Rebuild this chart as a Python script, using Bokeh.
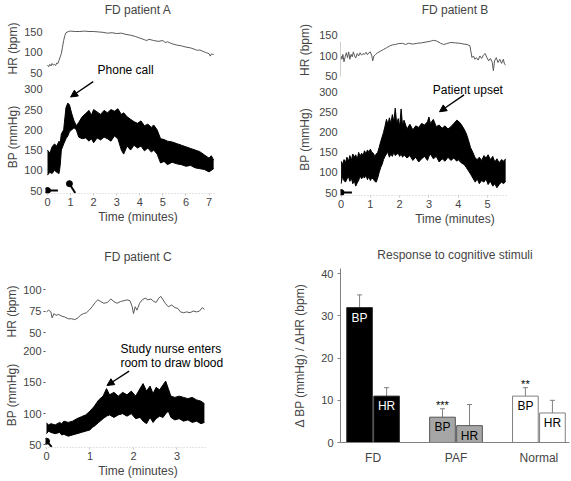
from bokeh.plotting import figure
from bokeh.layouts import row, column
from bokeh.models import (ColumnDataSource, FixedTicker, Range1d, Arrow, NormalHead,
                          Whisker, TeeHead, Label, AllLabels)
from bokeh.core.properties import value
from bokeh.embed import file_html
from bokeh.resources import INLINE

FONT = "Liberation Sans"

# ---------------- Patient A ----------------
A_HR_T = [0.00, 0.05, 0.10, 0.15, 0.20, 0.25, 0.30, 0.35, 0.40, 0.45, 0.50, 0.55, 0.60, 0.65,
          0.70, 0.75, 0.80, 0.90, 1.00, 1.20, 1.40, 1.60, 1.80, 2.00, 2.20, 2.40, 2.60, 2.80,
          3.00, 3.20, 3.40, 3.60, 3.80, 4.00, 4.20, 4.30, 4.40, 4.60, 4.80, 5.00, 5.10, 5.20,
          5.40, 5.60, 5.80, 6.00, 6.20, 6.40, 6.50, 6.60, 6.80, 6.90, 7.00, 7.05, 7.10, 7.20]
A_HR = [68, 64, 70, 66, 72, 68, 70, 67, 73, 72, 80, 88, 96, 112,
        128, 140, 147, 150, 151, 150, 150, 151, 150, 150, 149, 148, 146, 147,
        145, 146, 143, 141, 138, 134, 130, 128, 131, 128, 126, 128, 123, 125,
        120, 117, 115, 112, 110, 106, 104, 105, 100, 98, 96, 90, 95, 94]

A_BP_T = [0.00, 0.10, 0.20, 0.30, 0.40, 0.50, 0.55, 0.60, 0.70, 0.80, 0.88, 0.95, 1.05, 1.15,
          1.25, 1.35, 1.50, 1.65, 1.80, 1.90, 2.00, 2.15, 2.30, 2.45, 2.60, 2.75, 2.90, 3.05,
          3.20, 3.30, 3.45, 3.60, 3.75, 3.90, 4.05, 4.20, 4.35, 4.50, 4.60, 4.75, 4.90, 5.05,
          5.20, 5.40, 5.60, 5.80, 6.00, 6.20, 6.40, 6.60, 6.80, 7.00, 7.10, 7.20]
A_SYS = [150, 142, 158, 165, 160, 172, 168, 190, 200, 255, 266, 262, 240, 222,
         210, 218, 232, 240, 248, 236, 250, 244, 238, 248, 242, 250, 246, 252,
         238, 242, 232, 226, 220, 216, 222, 210, 214, 206, 212, 200, 178, 176,
         172, 170, 166, 162, 158, 154, 150, 146, 138, 130, 136, 125]
A_DIA = [88, 95, 92, 100, 95, 92, 112, 150, 165, 178, 185, 195, 200, 205,
         200, 182, 178, 180, 172, 178, 168, 180, 175, 182, 178, 172, 185, 178,
         150, 140, 160, 150, 162, 155, 160, 148, 155, 145, 150, 140, 118, 122,
         114, 120, 116, 114, 110, 112, 106, 104, 102, 96, 100, 104]

# ---------------- Patient B ----------------
B_HR_T = [0.00, 0.03, 0.06, 0.10, 0.14, 0.18, 0.22, 0.26, 0.30, 0.34, 0.38, 0.42, 0.46, 0.50,
          0.55, 0.60, 0.65, 0.70, 0.75, 0.80, 0.85, 0.90, 0.95, 1.00, 1.05, 1.08, 1.12, 1.18,
          1.25, 1.35, 1.45, 1.55, 1.65, 1.75, 1.85, 1.95, 2.10, 2.20, 2.30, 2.45, 2.60, 2.75,
          2.90, 3.05, 3.15, 3.25, 3.40, 3.50, 3.60, 3.75, 3.90, 4.05, 4.20, 4.30, 4.40, 4.43,
          4.47, 4.52, 4.57, 4.62, 4.68, 4.74, 4.80, 4.86, 4.92, 4.98, 5.04, 5.10, 5.16, 5.20,
          5.24, 5.30, 5.36, 5.42, 5.48, 5.54, 5.58, 5.62]
B_HR = [100, 92, 104, 86, 98, 108, 96, 110, 92, 104, 98, 110, 100, 95,
        106, 100, 108, 102, 106, 104, 109, 103, 108, 110, 100, 88, 100, 104,
        108, 112, 116, 120, 124, 127, 128, 130, 131, 128, 131, 129, 131, 132,
        134, 136, 138, 137, 131, 128, 130, 133, 132, 131, 129, 128, 125, 112,
        96, 100, 92, 96, 90, 100, 94, 102, 106, 96, 88, 94, 85, 64,
        88, 96, 84, 92, 82, 92, 80, 78]

B_BP_T = [0.00, 0.05, 0.10, 0.15, 0.20, 0.25, 0.30, 0.35, 0.40, 0.45, 0.50, 0.55, 0.60, 0.65,
          0.70, 0.75, 0.80, 0.85, 0.90, 0.95, 1.00, 1.05, 1.10, 1.15, 1.20, 1.25, 1.30, 1.35,
          1.40, 1.45, 1.50, 1.55, 1.60, 1.65, 1.70, 1.75, 1.80, 1.85, 1.90, 1.95, 2.00, 2.05,
          2.10, 2.15, 2.25, 2.35, 2.45, 2.55, 2.65, 2.75, 2.85, 2.95, 3.00, 3.05, 3.15, 3.25,
          3.35, 3.45, 3.55, 3.65, 3.75, 3.85, 3.95, 4.00, 4.10, 4.20, 4.28, 4.35, 4.42, 4.50,
          4.58, 4.65, 4.72, 4.80, 4.88, 4.95, 5.02, 5.10, 5.18, 5.25, 5.32, 5.40, 5.48, 5.55,
          5.62]
B_SYS = [128, 120, 132, 125, 138, 128, 142, 130, 146, 138, 144, 132, 150, 140,
         148, 142, 154, 146, 156, 150, 158, 150, 148, 140, 146, 150, 162, 176,
         188, 200, 215, 232, 220, 236, 222, 244, 226, 260, 220, 234, 214, 258,
         216, 230, 208, 220, 206, 216, 212, 222, 218, 226, 238, 222, 232, 214,
         218, 210, 216, 208, 214, 222, 230, 228, 220, 208, 196, 180, 162, 150,
         136, 132, 138, 130, 142, 136, 144, 132, 140, 126, 134, 124, 132, 128,
         134]
B_DIA = [72, 90, 80, 76, 84, 90, 78, 86, 72, 80, 66, 74, 80, 92,
         84, 90, 86, 94, 82, 90, 80, 86, 84, 78, 76, 86, 100, 112,
         120, 132, 140, 146, 150, 138, 146, 140, 150, 142, 145, 148, 140, 146,
         138, 144, 136, 142, 130, 138, 126, 134, 140, 130, 140, 146, 134, 140,
         126, 134, 128, 138, 130, 136, 128, 132, 124, 120, 112, 104, 96, 86,
         76, 84, 72, 80, 76, 84, 70, 78, 66, 72, 62, 70, 76, 72,
         78]

# ---------------- Patient C ----------------
C_HR_T = [0.00, 0.05, 0.10, 0.13, 0.17, 0.22, 0.28, 0.35, 0.42, 0.50, 0.58, 0.65, 0.72, 0.78,
          0.85, 0.92, 0.98, 1.05, 1.12, 1.18, 1.25, 1.32, 1.40, 1.48, 1.55, 1.62, 1.70, 1.78,
          1.85, 1.92, 1.97, 2.00, 2.04, 2.08, 2.14, 2.20, 2.27, 2.33, 2.40, 2.47, 2.52, 2.58,
          2.63, 2.68, 2.73, 2.80, 2.88, 2.95, 3.02, 3.08, 3.15, 3.22, 3.30, 3.37, 3.45, 3.52,
          3.58, 3.63]
C_HR = [74, 76, 74, 67, 72, 70, 71, 69, 68, 66, 66, 65, 67, 70,
        72, 73, 76, 80, 85, 88, 86, 84, 85, 89, 86, 84, 86, 87,
        88, 87, 80, 72, 80, 76, 84, 88, 90, 88, 89, 86, 85, 90,
        92, 88, 84, 80, 82, 79, 78, 74, 73, 74, 73, 75, 74, 75,
        79, 77]

C_BP_T = [0.00, 0.05, 0.10, 0.20, 0.30, 0.35, 0.40, 0.50, 0.60, 0.70, 0.80, 0.90, 1.00, 1.05,
          1.10, 1.20, 1.30, 1.38, 1.45, 1.55, 1.65, 1.75, 1.85, 1.95, 2.05, 2.15, 2.22, 2.30,
          2.38, 2.45, 2.52, 2.60, 2.68, 2.74, 2.80, 2.86, 2.95, 3.05, 3.15, 3.25, 3.35, 3.45,
          3.55, 3.63]
C_SYS = [85, 82, 84, 82, 86, 84, 88, 86, 88, 92, 95, 98, 104, 108,
         112, 122, 128, 140, 130, 134, 128, 134, 130, 136, 128, 140, 148, 136,
         144, 132, 142, 138, 146, 152, 140, 128, 126, 128, 126, 124, 126, 122,
         120, 116]
C_DIA = [68, 72, 70, 68, 70, 66, 67, 64, 66, 68, 70, 72, 74, 78,
         80, 86, 92, 96, 98, 94, 98, 100, 96, 100, 92, 94, 88, 84,
         94, 86, 92, 96, 94, 100, 104, 94, 90, 92, 88, 90, 86, 88,
         84, 86]

# ---------------- event markers / annotations ----------------
A_MARK_START = ([0.0, 0.45], [50, 50])
A_MARK_CALL = ([0.95, 1.2], [67, 44])
B_MARK_START = ([0.0, 0.37], [50, 50])
C_MARK_START = ([0.0, 0.12], [56, 47])

A_NOTE = ("Phone call", 2.17, 57)
A_ARROW = (1.98, 319, 1.0, 281)
B_NOTE = ("Patient upset", 4.33, 304)
B_ARROW = (4.20, 293, 3.36, 251)
C_NOTE_LINES = ["Study nurse enters", "room to draw blood"]
C_NOTE_X = 1.70
C_NOTE_Y = [203, 181]
C_ARROW = (1.90, 168, 1.39, 145)

# ---------------- summary bars ----------------
GROUPS = ["FD", "PAF", "Normal"]
BP_MEAN = [32, 6, 11]
BP_ERR = [3, 2, 2]
HR_MEAN = [11, 4, 7]
HR_ERR = [2, 5, 3]
SIG = ["", "***", "**"]
FILL = ["black", "#a6a6a6", "white"]
EDGE = ["#333333", "#555555", "#808080"]
LABEL_COLOR = ["white", "black", "black"]

HR_COLOR = "#5a5a5a"


def make_fig(w, h, xr, yr, left, right, top, bottom, title=None, xaxis=True):
    p = figure(width=w, height=h, x_range=Range1d(*xr), y_range=Range1d(*yr),
               output_backend="svg", toolbar_location=None, title=title,
               x_axis_location="below" if xaxis else None,
               min_border_left=left, min_border_right=right,
               min_border_top=top, min_border_bottom=bottom)
    p.outline_line_color = None
    p.xgrid.visible = False
    p.ygrid.visible = False
    if title is not None:
        p.title.text_font = FONT
        p.title.text_font_size = "12px"
        p.title.text_font_style = "normal"
        p.title.align = "center"
    return p


def style_yaxis(p, ticks, label, tick_out=0, line_color=None, label_standoff=1,
                major_standoff=3, bounds=None):
    ax = p.yaxis[0]
    ax.ticker = FixedTicker(ticks=ticks)
    ax.major_label_policy = AllLabels()
    ax.axis_label = label
    ax.axis_label_text_font = FONT
    ax.axis_label_text_font_size = "12px"
    ax.axis_label_text_font_style = "normal"
    ax.axis_label_standoff = label_standoff
    ax.major_label_text_font = FONT
    ax.major_label_text_font_size = "11px"
    ax.major_label_standoff = major_standoff
    ax.major_tick_out = tick_out
    ax.major_tick_in = 0
    ax.minor_tick_out = 0
    ax.minor_tick_in = 0
    ax.axis_line_color = line_color
    ax.major_tick_line_color = "#555555" if tick_out else None
    if bounds is not None:
        ax.bounds = bounds


def style_time_axis(p, ticks, bounds):
    ax = p.xaxis[0]
    ax.ticker = FixedTicker(ticks=ticks)
    ax.bounds = bounds
    ax.axis_label = "Time (minutes)"
    ax.axis_label_text_font = FONT
    ax.axis_label_text_font_size = "12px"
    ax.axis_label_text_font_style = "normal"
    ax.axis_label_standoff = 1
    ax.major_label_text_font = FONT
    ax.major_label_text_font_size = "11px"
    ax.major_label_standoff = 2
    ax.major_tick_out = 2
    ax.major_tick_in = 0
    ax.minor_tick_out = 0
    ax.minor_tick_in = 0
    ax.axis_line_color = "#c8c8c8"
    ax.axis_line_dash = "1 2"
    ax.major_tick_line_color = "#c8c8c8"


def hr_panel(p, t, hr):
    p.line(t, hr, line_color=HR_COLOR, line_width=1)


def bp_panel(p, t, sys, dia):
    p.varea(x=t, y1=dia, y2=sys, fill_color="black")
    p.line(t, sys, line_color="black", line_width=1)
    p.line(t, dia, line_color="black", line_width=1)


def marker(p, mark):
    xs, ys = mark
    p.line(xs, ys, line_color="black", line_width=2)
    p.scatter([xs[0]], [ys[0]], size=6, color="black")


def arrow(p, a):
    p.add_layout(Arrow(end=NormalHead(size=7, fill_color="black", line_color="black"),
                       x_start=a[0], y_start=a[1], x_end=a[2], y_end=a[3],
                       line_color="black", line_width=1.3))


def note(p, txt, x, y, align="left"):
    p.add_layout(Label(x=x, y=y, text=txt, text_font=FONT, text_font_size="12px",
                       text_align=align, text_baseline="middle", text_color="black"))


# ---------- column 1 : panels A and C ----------
L1, R1 = 45, 60
A_X = (-0.087, 7.93)
a_hr = make_fig(290, 80, A_X, (30.5, 186.6), L1, R1, 16, 0, title="FD patient A", xaxis=False)
a_hr.title.standoff = 0
hr_panel(a_hr, A_HR_T, A_HR)
style_yaxis(a_hr, [50, 100, 150], "HR (bpm)")
note(a_hr, *A_NOTE)

a_bp = make_fig(290, 146, A_X, (42.7, 321.8), L1, R1, 0, 31)
bp_panel(a_bp, A_BP_T, A_SYS, A_DIA)
style_yaxis(a_bp, [50, 100, 150, 200, 250, 300], "BP (mmHg)")
style_time_axis(a_bp, list(range(0, 8)), (-0.1, 7.3))
marker(a_bp, A_MARK_START)
marker(a_bp, A_MARK_CALL)
arrow(a_bp, A_ARROW)

C_X = (-0.023, 4.23)
c_hr = make_fig(290, 116, C_X, (38.4, 110.5), L1, R1, 54, 0, title="FD patient C", xaxis=False)
c_hr.title.standoff = 34
hr_panel(c_hr, C_HR_T, C_HR)
style_yaxis(c_hr, [50, 75, 100], "HR (bpm)", tick_out=2, major_standoff=2)

c_bp = make_fig(290, 138, C_X, (45.9, 213.7), L1, R1, 0, 28)
bp_panel(c_bp, C_BP_T, C_SYS, C_DIA)
style_yaxis(c_bp, [50, 100, 150, 200], "BP (mmHg)", tick_out=2, major_standoff=2)
style_time_axis(c_bp, [0, 1, 2, 3], (-0.02, 3.65))
marker(c_bp, C_MARK_START)
for line_txt, yy in zip(C_NOTE_LINES, C_NOTE_Y):
    note(c_bp, line_txt, C_NOTE_X, yy)
arrow(c_bp, C_ARROW)

# ---------- column 2 : panel B and bar chart ----------
L2, R2 = 47, 1
B_X = (-0.02, 7.80)
b_hr = make_fig(280, 83, B_X, (32.9, 196.3), L2, R2, 16, 0, title="FD patient B", xaxis=False)
b_hr.title.standoff = 0
hr_panel(b_hr, B_HR_T, B_HR)
style_yaxis(b_hr, [50, 100, 150], "HR (bpm)", line_color="#cfcfcf", label_standoff=4,
            bounds=(50, 135))

b_bp = make_fig(280, 145, B_X, (42.7, 321.3), L2, R2, 0, 31)
bp_panel(b_bp, B_BP_T, B_SYS, B_DIA)
style_yaxis(b_bp, [50, 100, 150, 200, 250, 300], "BP (mmHg)", label_standoff=4)
style_time_axis(b_bp, [0, 1, 2, 3, 4, 5], (-0.05, 5.65))
marker(b_bp, B_MARK_START)
note(b_bp, *B_NOTE, align="center")
arrow(b_bp, B_ARROW)

d = make_fig(280, 240, (0.607, 3.369), (0, 41.26), L2, R2, 40, 26,
             title="Response to cognitive stimuli")
d.title.standoff = 14
OFF = 0.163
W = 0.31
gx = [i + 1 for i in range(len(GROUPS))]
bp_x = [g - OFF for g in gx]
hr_x = [g + OFF for g in gx]
src = ColumnDataSource(dict(
    x=bp_x + hr_x,
    top=BP_MEAN + HR_MEAN,
    err=[m + e for m, e in zip(BP_MEAN, BP_ERR)] + [m + e for m, e in zip(HR_MEAN, HR_ERR)],
    fill=FILL + FILL,
    edge=EDGE + EDGE,
    lab=["BP"] * 3 + ["HR"] * 3,
    labc=LABEL_COLOR + LABEL_COLOR,
))
d.add_layout(Whisker(source=src, base="x", lower="top", upper="err", dimension="height",
                     line_color="#808080", line_width=1, lower_head=None,
                     upper_head=TeeHead(size=5, line_color="#808080", line_width=1)))
d.vbar(x="x", top="top", bottom=0, width=W, fill_color="fill", line_color="edge",
       line_width=1, source=src)
d.text(x="x", y="top", text="lab", text_color="labc", text_align="center",
       text_baseline="top", y_offset=3, text_font=value(FONT), text_font_size="12px",
       source=src)
sig_src = ColumnDataSource(dict(x=bp_x, y=[m + e for m, e in zip(BP_MEAN, BP_ERR)], t=SIG))
d.text(x="x", y="y", text="t", text_align="center", text_baseline="bottom", y_offset=2,
       text_font=value(FONT), text_font_size="11px", source=sig_src)

yax = d.yaxis[0]
yax.ticker = FixedTicker(ticks=[0, 10, 20, 30, 40])
yax.axis_label = "\u0394 BP (mmHg) / \u0394HR (bpm)"
yax.axis_label_text_font = FONT
yax.axis_label_text_font_size = "12px"
yax.axis_label_text_font_style = "normal"
yax.axis_label_standoff = 11
yax.major_label_text_font = FONT
yax.major_label_text_font_size = "11px"
yax.major_label_standoff = 4
yax.major_tick_out = 3
yax.major_tick_in = 0
yax.minor_tick_out = 0
yax.minor_tick_in = 0
yax.axis_line_color = "#808080"
yax.major_tick_line_color = "#808080"

xax = d.xaxis[0]
xax.ticker = FixedTicker(ticks=gx)
xax.major_label_overrides = {g: name for g, name in zip(gx, GROUPS)}
xax.major_label_text_font = FONT
xax.major_label_text_font_size = "12px"
xax.major_label_standoff = 8
xax.major_tick_out = 0
xax.major_tick_in = 0
xax.minor_tick_out = 0
xax.minor_tick_in = 0
xax.axis_line_color = "#808080"

left_col = column(a_hr, a_bp, c_hr, c_bp)
right_col = column(b_hr, b_bp, d)
layout = row(left_col, right_col)

open("out.html", "w").write(file_html(layout, INLINE))
